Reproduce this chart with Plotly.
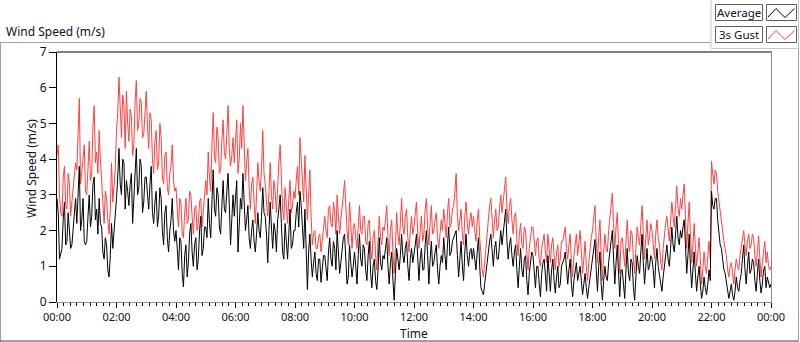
import plotly.graph_objects as go
import pandas as pd

# 3-second gust (red), 2.5-minute samples, one row per hour
gust = [
    4.1, 4.4, 3.0, 2.5, 2.4, 3.5, 3.8, 2.7, 2.6, 3.6, 3.3, 2.4, 2.8, 3.2, 3.4, 3.9, 3.7, 4.6, 5.7, 3.3, 3.6, 4.0, 4.4, 3.1,
    3.0, 3.8, 4.5, 3.4, 3.6, 4.9, 5.5, 3.9, 4.2, 3.6, 4.8, 4.0, 3.3, 2.5, 2.2, 3.1, 2.9, 2.3, 1.9, 2.6, 3.9, 2.8, 3.2, 3.7,
    4.8, 5.3, 6.3, 5.1, 4.6, 5.8, 5.5, 4.3, 5.9, 5.0, 4.5, 5.4, 5.2, 4.1, 4.4, 5.6, 6.2, 4.8, 5.0, 5.7, 5.6, 4.6, 4.7, 5.3,
    5.9, 4.9, 4.3, 5.3, 5.1, 4.0, 3.6, 4.5, 4.8, 3.7, 3.9, 5.0, 4.6, 3.5, 3.3, 4.1, 4.2, 3.2, 3.0, 3.6, 3.8, 4.4, 3.4, 3.1,
    3.2, 2.6, 2.1, 2.9, 2.8, 1.9, 1.8, 2.5, 2.9, 2.2, 2.3, 3.1, 3.0, 2.4, 1.9, 2.6, 2.7, 2.0, 2.2, 2.8, 2.9, 2.1, 2.5, 3.0,
    3.4, 3.0, 4.2, 3.5, 3.1, 4.4, 5.3, 4.1, 3.9, 4.9, 4.6, 3.6, 3.7, 4.5, 5.1, 4.2, 4.0, 4.7, 5.5, 4.3, 3.8, 4.1, 4.6, 3.9,
    4.4, 5.1, 3.6, 4.0, 5.0, 4.3, 5.5, 4.6, 3.4, 3.9, 4.3, 3.2, 2.6, 3.3, 3.5, 2.8, 2.2, 3.0, 3.9, 3.4, 3.1, 3.7, 4.8, 3.6,
    3.3, 2.8, 2.4, 3.1, 3.9, 3.0, 2.6, 3.4, 3.1, 2.5, 3.5, 3.9, 4.4, 3.3, 2.6, 2.3, 3.2, 2.7, 2.2, 2.9, 3.4, 2.5, 2.7, 3.1,
    2.9, 3.4, 3.8, 3.0, 4.6, 4.0, 3.4, 2.8, 4.1, 3.2, 2.3, 3.0, 3.7, 2.4, 1.6, 1.9, 2.0, 1.5, 1.5, 1.8, 1.9, 1.4, 1.7, 2.0,
    2.4, 2.0, 1.8, 2.6, 2.7, 2.2, 2.1, 2.8, 2.5, 1.9, 3.0, 2.4, 1.9, 2.3, 2.6, 3.0, 3.4, 2.5, 2.0, 1.6, 2.8, 2.2, 1.5, 2.1,
    2.2, 1.8, 1.5, 2.1, 2.7, 2.0, 1.9, 2.4, 2.4, 1.7, 1.6, 2.2, 2.3, 1.5, 1.2, 1.8, 2.0, 1.3, 0.9, 1.7, 2.4, 1.8, 1.6, 2.1,
    2.0, 2.3, 2.7, 1.8, 1.3, 2.0, 2.3, 1.4, 0.8, 1.5, 2.5, 1.9, 1.6, 2.2, 2.9, 2.1, 1.9, 2.4, 2.6, 1.8, 1.4, 2.0, 2.4, 1.9,
    2.1, 2.5, 2.8, 1.9, 1.5, 2.0, 2.4, 1.7, 1.9, 2.6, 2.9, 2.1, 1.6, 2.2, 2.7, 1.9, 2.0, 2.3, 2.5, 1.8, 1.5, 1.9, 2.3, 2.0,
    2.6, 2.2, 1.8, 2.5, 2.9, 2.1, 2.2, 2.6, 2.7, 3.1, 3.6, 2.4, 2.0, 2.3, 2.6, 1.9, 1.6, 2.4, 2.8, 2.2, 1.9, 2.3, 2.5, 2.1,
    2.4, 2.0, 1.7, 2.3, 2.6, 1.8, 1.2, 0.9, 0.7, 1.1, 1.6, 2.0, 2.3, 2.7, 2.9, 2.2, 1.8, 2.3, 2.6, 2.0, 2.1, 2.6, 3.0, 2.5,
    2.8, 3.2, 3.5, 2.6, 2.2, 2.7, 2.9, 2.3, 1.9, 2.4, 2.5, 1.7, 1.3, 1.9, 2.2, 1.6, 1.5, 2.1, 2.0, 1.4, 0.9, 1.5, 1.8, 2.1,
    2.1, 1.6, 1.3, 1.7, 1.8, 1.2, 1.0, 1.5, 1.7, 1.9, 1.4, 1.1, 1.9, 1.5, 1.1, 1.6, 1.8, 1.3, 0.9, 1.4, 1.6, 1.0, 1.2, 1.7,
    1.7, 1.9, 2.1, 1.5, 1.2, 1.6, 1.9, 1.1, 0.7, 1.3, 1.6, 1.9, 1.3, 1.7, 2.0, 1.4, 0.8, 1.2, 1.7, 1.0, 0.6, 1.1, 1.5, 1.8,
    2.0, 2.4, 2.7, 1.7, 1.1, 1.8, 2.3, 1.3, 0.6, 1.4, 1.9, 1.5, 1.4, 2.0, 2.4, 2.7, 3.05, 2.2, 1.5, 2.1, 2.5, 1.6, 0.8, 1.7,
    1.8, 1.4, 1.0, 1.7, 2.3, 1.6, 1.4, 2.0, 1.9, 1.2, 0.8, 1.5, 2.1, 1.8, 1.6, 2.2, 2.7, 1.9, 1.2, 1.8, 2.3, 1.6, 1.8, 2.2,
    2.0, 1.6, 1.2, 1.9, 2.3, 1.8, 1.6, 1.1, 0.9, 1.5, 1.9, 2.2, 2.4, 2.0, 1.7, 2.3, 2.8, 2.4, 2.1, 2.7, 3.25, 2.6, 2.4, 2.9,
    2.6, 3.0, 3.3, 2.4, 1.5, 2.2, 2.8, 1.9, 1.1, 1.6, 2.2, 1.5, 1.0, 1.4, 1.8, 1.2, 0.5, 0.9, 1.4, 1.0, 0.8, 1.3, 1.7, 1.2,
    3.95, 3.6, 3.3, 3.7, 3.6, 3.1, 2.8, 2.5, 2.2, 1.9, 1.7, 1.5, 1.3, 0.9, 0.7, 1.0, 1.1, 0.8, 0.5, 0.9, 1.2, 1.0, 0.9, 1.3,
    1.5, 1.8, 2.0, 1.6, 1.3, 1.7, 1.9, 1.5, 1.6, 1.9, 1.8, 1.3, 1.0, 1.4, 1.85, 1.2, 0.7, 1.1, 1.5, 1.7, 1.1, 1.4, 1.0, 0.9,
    1.0,
]

# Average wind speed (black)
average = [
    2.9, 2.5, 1.2, 1.4, 1.5, 2.3, 2.8, 1.6, 1.7, 2.5, 2.1, 1.5, 1.6, 2.0, 2.4, 2.9, 2.2, 3.0, 3.8, 2.0, 2.3, 2.9, 1.7, 1.6,
    1.7, 2.4, 3.0, 2.1, 2.4, 3.3, 3.5, 2.3, 2.6, 1.9, 2.9, 2.2, 2.1, 1.4, 1.2, 1.8, 1.6, 0.9, 0.7, 1.3, 2.2, 1.5, 1.9, 2.3,
    2.9, 3.5, 4.3, 3.3, 3.0, 4.0, 3.9, 2.6, 3.4, 3.1, 2.7, 3.3, 3.6, 2.2, 2.9, 3.7, 4.3, 3.0, 3.2, 4.0, 3.8, 2.5, 2.8, 3.5,
    3.5, 3.0, 2.6, 3.3, 3.8, 2.5, 2.2, 2.8, 3.1, 2.1, 2.4, 3.2, 2.9, 2.0, 1.6, 2.5, 2.7, 1.8, 1.4, 2.0, 2.3, 2.9, 2.0, 1.7,
    2.0, 1.5, 0.9, 1.8, 1.7, 0.8, 0.42, 1.3, 1.6, 0.7, 1.1, 1.9, 2.2, 1.4, 1.0, 1.6, 1.8, 0.9, 1.2, 2.0, 2.4, 1.3, 1.5, 2.1,
    2.1, 1.8, 2.9, 2.2, 1.8, 2.8, 3.7, 2.6, 2.4, 3.2, 3.0, 2.1, 1.9, 2.7, 3.4, 2.6, 2.5, 3.1, 3.6, 2.7, 1.6, 2.3, 3.0, 2.4,
    3.0, 3.4, 1.4, 2.3, 2.9, 2.6, 3.6, 2.8, 2.0, 2.3, 2.7, 1.8, 1.5, 2.0, 2.3, 1.7, 1.4, 1.9, 2.5, 2.0, 1.8, 2.4, 3.2, 2.5,
    2.4, 1.9, 1.1, 2.0, 2.8, 2.1, 1.5, 2.2, 2.0, 1.4, 2.3, 2.6, 3.0, 2.2, 1.4, 1.2, 2.2, 1.7, 1.2, 1.9, 2.6, 1.5, 1.6, 2.0,
    2.0, 2.5, 2.8, 2.1, 3.1, 2.7, 1.9, 1.5, 2.6, 1.6, 0.35, 1.4, 1.9, 1.2, 0.7, 1.1, 1.4, 0.8, 0.6, 1.2, 1.2, 0.55, 0.9, 1.3,
    1.3, 1.0, 0.6, 1.4, 1.8, 1.2, 1.0, 1.7, 1.5, 0.9, 2.0, 1.4, 0.8, 1.1, 1.4, 1.8, 1.9, 1.2, 0.5, 0.7, 1.6, 1.1, 0.7, 1.0,
    1.4, 1.0, 0.5, 1.3, 1.9, 1.2, 1.0, 1.6, 1.5, 0.9, 0.6, 1.3, 1.7, 0.8, 0.4, 1.0, 1.2, 0.6, 0.35, 0.9, 1.8, 1.1, 0.9, 1.3,
    1.2, 1.5, 1.8, 1.0, 0.5, 1.1, 1.4, 0.6, 0.05, 0.8, 1.5, 1.2, 0.9, 1.3, 1.9, 1.3, 1.1, 1.5, 1.7, 1.0, 0.6, 1.2, 1.5, 1.1,
    1.3, 1.6, 1.9, 1.1, 0.6, 1.2, 1.5, 0.9, 0.9, 1.6, 2.0, 1.3, 0.5, 1.2, 1.7, 1.0, 1.1, 1.4, 1.6, 0.9, 0.5, 1.0, 1.3, 1.1,
    1.8, 1.3, 0.9, 1.6, 2.1, 1.3, 1.4, 1.7, 1.8, 1.9, 2.0, 1.3, 0.7, 1.2, 1.7, 1.0, 0.6, 1.4, 1.9, 1.3, 1.0, 1.4, 1.5, 1.2,
    1.5, 1.2, 0.9, 1.4, 1.8, 1.0, 0.4, 0.3, 0.2, 0.5, 0.8, 1.2, 1.4, 1.7, 1.9, 1.4, 1.0, 1.5, 1.7, 1.2, 1.2, 1.6, 2.0, 1.6,
    1.9, 2.3, 2.6, 1.7, 1.2, 1.6, 1.8, 1.3, 1.0, 1.4, 1.6, 0.9, 0.4, 1.0, 1.5, 0.9, 0.7, 1.2, 1.3, 0.6, 0.2, 0.8, 1.1, 1.4,
    1.3, 0.8, 0.4, 1.0, 1.0, 0.5, 0.15, 0.8, 1.1, 1.2, 0.6, 0.3, 1.3, 0.8, 0.3, 0.9, 1.2, 0.6, 0.25, 0.7, 1.0, 0.4, 0.5, 1.0,
    1.1, 1.2, 1.4, 0.8, 0.5, 0.9, 1.2, 0.5, 0.15, 0.6, 0.9, 1.1, 0.6, 0.8, 1.0, 0.6, 0.2, 0.5, 0.8, 0.4, 0.1, 0.4, 0.7, 1.0,
    1.2, 1.5, 1.75, 0.9, 0.3, 1.0, 1.4, 0.5, 0.05, 0.6, 1.0, 0.7, 0.6, 1.1, 1.5, 1.7, 2.0, 1.2, 0.5, 1.1, 1.6, 0.8, 0.15, 0.9,
    0.9, 0.5, 0.1, 0.9, 1.5, 0.8, 0.6, 1.2, 1.1, 0.4, 0.05, 0.7, 1.3, 1.0, 0.8, 1.4, 1.9, 1.1, 0.5, 1.0, 1.5, 0.9, 1.0, 1.3,
    1.2, 0.9, 0.4, 1.1, 1.5, 1.0, 0.8, 0.5, 0.3, 0.7, 1.0, 1.3, 1.6, 1.2, 1.0, 1.5, 2.1, 1.6, 1.4, 1.9, 2.4, 1.8, 1.6, 2.0,
    1.8, 2.1, 2.3, 1.6, 0.8, 1.3, 1.9, 1.0, 0.4, 0.9, 1.4, 0.8, 0.3, 0.7, 1.0, 0.5, 0.1, 0.3, 0.7, 0.4, 0.2, 0.5, 0.9, 0.6,
    3.1, 2.7, 2.6, 2.9, 2.9, 2.3, 1.9, 1.6, 1.5, 1.1, 0.9, 0.8, 0.6, 0.3, 0.1, 0.3, 0.5, 0.2, 0.05, 0.3, 0.7, 0.4, 0.3, 0.6,
    0.8, 1.2, 1.6, 0.9, 0.5, 1.0, 1.4, 0.8, 0.9, 1.2, 1.1, 0.6, 0.3, 0.8, 1.2, 0.6, 0.25, 0.5, 0.9, 1.0, 0.4, 0.7, 0.5, 0.4,
    0.5,
]

times = pd.date_range("2024-01-01 00:00", periods=len(gust), freq="150s")

y_ticks = [0, 1, 2, 3, 4, 5, 6, 7]

W, H = 800, 342
L, R, T, B = 57, 771, 52, 302


def px(x):
    return (x - L) / (R - L)


def py(y):
    return (B - y) / (B - T)


fig = go.Figure()
fig.add_trace(go.Scatter(x=times, y=gust, mode="lines", name="3s Gust",
                         line=dict(color="#ff4040", width=1)))
fig.add_trace(go.Scatter(x=times[:len(average)], y=average, mode="lines", name="Average",
                         line=dict(color="#000000", width=1)))

shapes = []


def line(x0, y0, x1, y1, color, width=1):
    shapes.append(dict(type="line", xref="paper", yref="paper",
                       x0=px(x0), y0=py(y0), x1=px(x1), y1=py(y1),
                       line=dict(color=color, width=width)))


def rect(x0, y0, x1, y1, color, fill="white"):
    shapes.append(dict(type="rect", xref="paper", yref="paper",
                       x0=px(x0), y0=py(y0), x1=px(x1), y1=py(y1),
                       line=dict(color=color, width=1), fillcolor=fill))


def zig(points, color):
    d = "M " + " L ".join(f"{px(x):.5f},{py(y):.5f}" for x, y in points)
    shapes.append(dict(type="path", xref="paper", yref="paper", path=d,
                       line=dict(color=color, width=1)))


# outer frame
line(0.5, 42.5, 711, 42.5, "#a0a0a0")
line(0.5, 42.5, 0.5, 341, "#a0a0a0")
line(0, 341, 799, 341, "#404040")
line(798.5, 48.5, 798.5, 341, "#a0a0a0")
# legend panel
rect(711, -1, 798.5, 48.5, "#c8c8c8")
# plot borders (top black, right gray)
line(57, 52, 771.5, 52, "#000000")
line(771.5, 52, 771.5, 302.5, "#8c8c8c")
# legend boxes
rect(715.5, 4.5, 762.5, 20.5, "#606060")
rect(766.5, 4.5, 796.5, 20.5, "#606060")
rect(715.5, 26.5, 762.5, 42.5, "#606060")
rect(766.5, 26.5, 796.5, 42.5, "#606060")
zig([(768, 17), (776, 8.5), (785, 17.5), (794.5, 8.5)], "#000000")
zig([(768, 39), (776, 30.5), (785, 39.5), (794.5, 30.5)], "#ff4040")

txt = "#101020"
annotations = [
    dict(text="Wind Speed (m/s)", x=px(4), y=py(32), xanchor="left", yanchor="middle",
         font=dict(size=12, color=txt)),
    dict(text="Wind Speed (m/s)", x=px(31), y=py(169), textangle=-90,
         xanchor="center", yanchor="middle", font=dict(size=12, color=txt)),
    dict(text="Time", x=px(414), y=py(333), xanchor="center", yanchor="middle",
         font=dict(size=12, color=txt)),
    dict(text="Average", x=px(739), y=py(12.5), xanchor="center", yanchor="middle",
         font=dict(size=11.5, color=txt)),
    dict(text="3s Gust", x=px(739), y=py(34.5), xanchor="center", yanchor="middle",
         font=dict(size=11.5, color=txt)),
]
for a in annotations:
    a.update(xref="paper", yref="paper", showarrow=False)

fig.update_layout(
    width=W, height=H,
    margin=dict(l=L, r=W - R, t=T, b=H - B, pad=0),
    paper_bgcolor="white", plot_bgcolor="white",
    showlegend=False,
    font=dict(family="Noto Sans", size=11, color=txt),
    shapes=shapes, annotations=annotations,
    xaxis=dict(
        type="date", range=[times[0], times[-1]],
        tickformat="%H:%M", tick0="2024-01-01", dtick=7200000,
        ticks="outside", ticklen=5, tickcolor="#000", tickwidth=1,
        showline=True, linecolor="#8c8c8c", linewidth=1,
        showgrid=False, zeroline=False, fixedrange=True,
        minor=dict(ticks="outside", ticklen=3, dtick=800000, tick0="2024-01-01",
                   tickcolor="#000", showgrid=False),
        tickfont=dict(size=11),
    ),
    yaxis=dict(
        range=[0, 7], tickvals=y_ticks,
        ticks="outside", ticklen=7, tickcolor="#000", tickwidth=1,
        showline=True, linecolor="#000", linewidth=1,
        showgrid=False, zeroline=False, fixedrange=True,
        tickfont=dict(size=12),
    ),
)

fig.write_html("out.html", config={"displayModeBar": False},
               post_script="document.body.style.margin='0';document.body.style.overflow='hidden';")
